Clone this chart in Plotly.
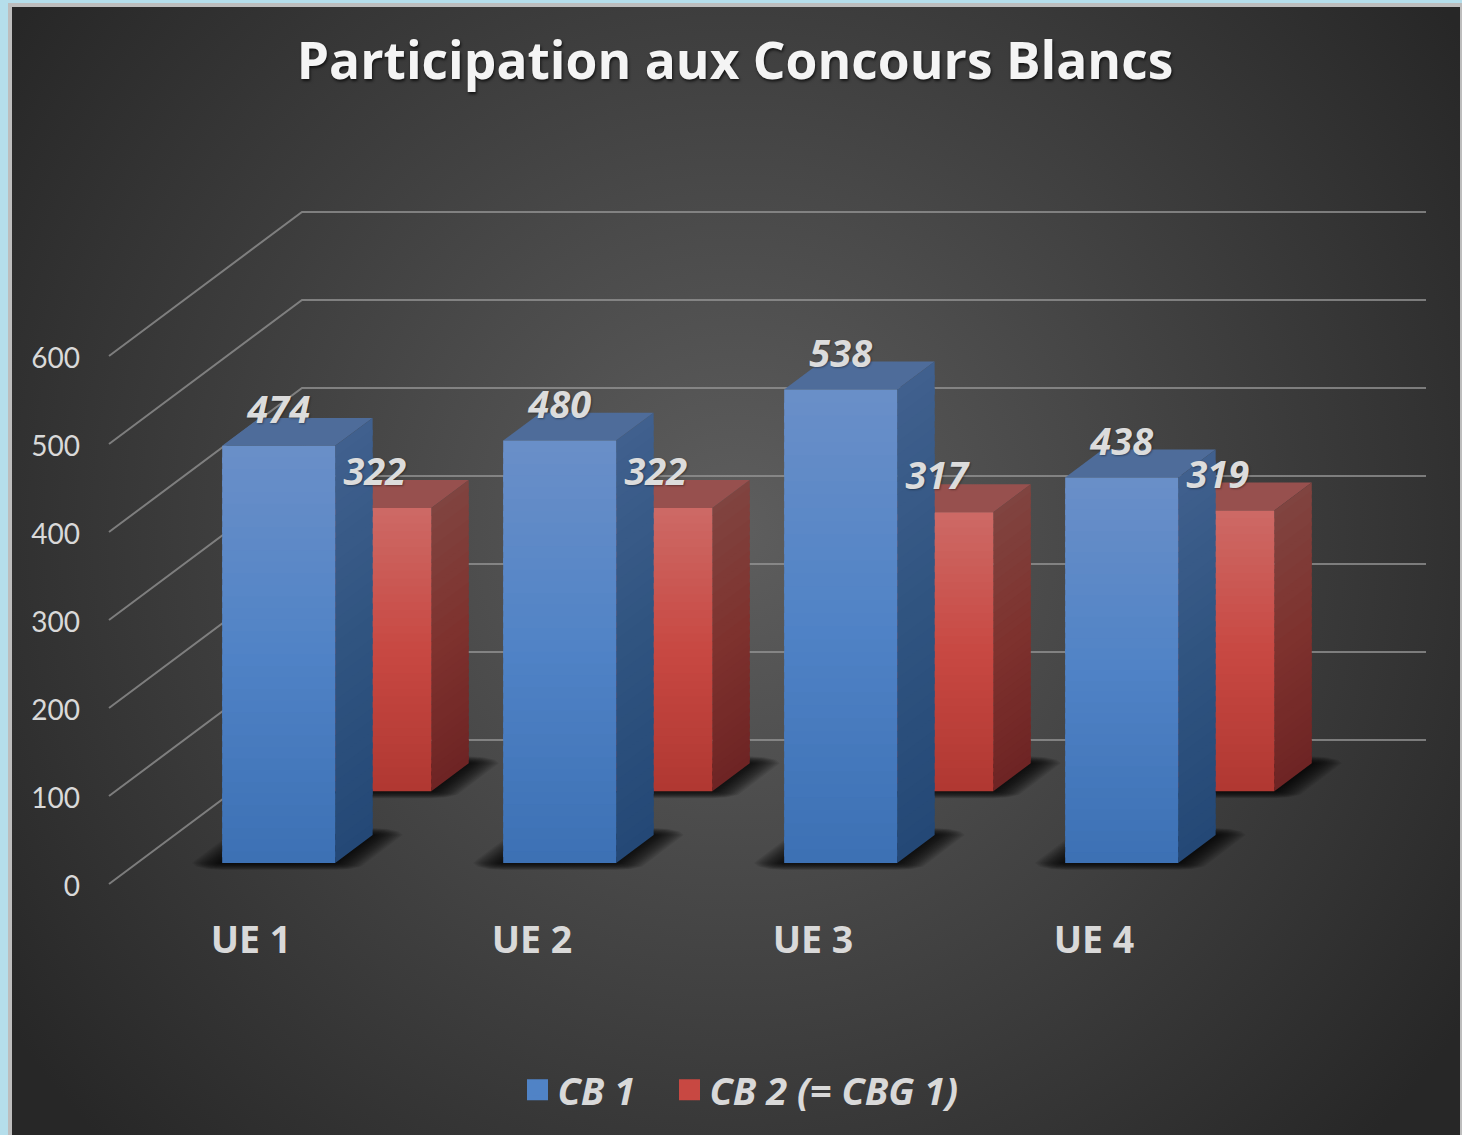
import base64
import math
import plotly.graph_objects as go

# ---- data ----
categories = ["UE 1", "UE 2", "UE 3", "UE 4"]
cb1_values = [474, 480, 538, 438]
cb2_values = [322, 322, 317, 319]
series_names = ["CB 1", "CB 2 (= CBG 1)"]
y_ticks = [0, 100, 200, 300, 400, 500, 600]
title_text = "Participation aux Concours Blancs"

# ---- oblique projection / layout ----
W, H = 1462, 1135
PX_PER_UNIT = 0.88
ZERO_PY = 884
X0, CAT_STEP, BAR_W = 194, 281, 113
DEPTH_X, DEPTH_Y = 193, 144 / PX_PER_UNIT     # full floor depth in x px and in value units
BLUE_T = (0.146, 0.340)
RED_T = (0.644, 0.838)
N = 36
FONT = "Open Sans"


def lerp(c1, c2, f):
    return tuple(a + (b - a) * f for a, b in zip(c1, c2))


def ramp(stops, f):
    f = min(max(f, 0), 1)
    n = len(stops) - 1
    i = min(int(f * n), n - 1)
    return lerp(stops[i], stops[i + 1], f * n - i)


def rgb(c):
    return "rgb(%d,%d,%d)" % tuple(round(v) for v in c)


def px(x, t):
    return x + DEPTH_X * t


def py(v, t):
    return v + DEPTH_Y * t


def hull(points):
    pts = sorted(set(points))

    def half(seq):
        out = []
        for p in seq:
            while len(out) > 1 and ((out[-1][0] - out[-2][0]) * (p[1] - out[-2][1])
                                    - (out[-1][1] - out[-2][1]) * (p[0] - out[-2][0])) <= 0:
                out.pop()
            out.append(p)
        return out[:-1]

    return half(pts) + half(pts[::-1])


BLUE = dict(
    front=[(106, 143, 200), (80, 131, 198), (60, 112, 180)],
    side=[(64, 96, 142), (48, 84, 128), (36, 72, 118)],
    top=(78, 108, 154),
)
RED = dict(
    front=[(205, 106, 102), (200, 72, 66), (176, 56, 50)],
    side=[(128, 68, 64), (126, 50, 46), (110, 36, 36)],
    top=(151, 80, 78),
)

fig = go.Figure()


def poly(xs, ys, color):
    fig.add_trace(go.Scatter(
        x=xs + xs[:1], y=ys + ys[:1], mode="lines", fill="toself", fillcolor=color,
        line=dict(width=0), hoverinfo="skip", showlegend=False))


# wall + floor gridlines
for v in y_ticks:
    fig.add_trace(go.Scatter(
        x=[px(109, 0), px(109, 1), 1426], y=[py(v, 0), py(v, 1), py(v, 1)],
        mode="lines", line=dict(color="rgba(150,150,150,0.75)", width=2),
        hoverinfo="skip", showlegend=False))

# soft floor shadows: footprint of each bar grown by an ellipse, layered translucent
SHADOW_LAYERS = 16
all_bars = [(i, BLUE_T) for i in range(len(cb1_values))] + [(i, RED_T) for i in range(len(cb2_values))]
for i, (t0, t1) in all_bars:
    left = X0 + CAT_STEP * i
    corners = [(px(left, t0), py(0, t0)), (px(left, t0) + BAR_W, py(0, t0)),
               (px(left, t1) + BAR_W, py(0, t1)), (px(left, t1), py(0, t1))]
    for k in range(SHADOW_LAYERS, 0, -1):
        rx = 30 * k / SHADOW_LAYERS
        ry = 7 * k / SHADOW_LAYERS / PX_PER_UNIT
        pts = []
        for cx, cy in corners:
            for a in range(0, 360, 30):
                pts.append((cx + rx * math.cos(math.radians(a)), cy + ry * math.sin(math.radians(a))))
        h = hull(pts)
        poly([p[0] for p in h], [p[1] for p in h], "rgba(0,0,0,0.075)")


def draw_bar(i, v, pal, t0, t1):
    left = X0 + CAT_STEP * i
    fx = px(left, t0)
    # top face
    poly([fx, fx + BAR_W, px(left, t1) + BAR_W, px(left, t1)],
         [py(v, t0), py(v, t0), py(v, t1), py(v, t1)], rgb(pal["top"]))
    # side and front faces, sliced for their vertical gradient (slices overlap to hide seams)
    xr0, xr1 = fx + BAR_W, px(left, t1) + BAR_W
    for k in range(N):
        hi = v * (1 - k / N)
        lo = v * (1 - (k + 1.5) / N) if k < N - 1 else 0
        poly([xr0, xr1, xr1, xr0],
             [py(hi, t0), py(hi, t1), py(lo, t1), py(lo, t0)],
             rgb(ramp(pal["side"], (k + 0.5) / N)))
        poly([fx, xr0, xr0, fx],
             [py(hi, t0), py(hi, t0), py(lo, t0), py(lo, t0)],
             rgb(ramp(pal["front"], (k + 0.5) / N)))


for i, v in enumerate(cb2_values):
    draw_bar(i, v, RED, *RED_T)
for i, v in enumerate(cb1_values):
    draw_bar(i, v, BLUE, *BLUE_T)

# value labels
label_font = dict(family=FONT, size=38, color="#dcdcdc", weight="bold", style="italic",
                  shadow="1px 1px 2px rgba(0,0,0,0.35)")
for vals, (t0, _) in ((cb1_values, BLUE_T), (cb2_values, RED_T)):
    fig.add_trace(go.Scatter(
        x=[px(X0 + CAT_STEP * i, t0) + BAR_W / 2 for i in range(len(vals))],
        y=[py(v, t0) + 32.5 / PX_PER_UNIT for v in vals],
        mode="text", text=[str(v) for v in vals], textposition="middle center",
        textfont=label_font, hoverinfo="skip", showlegend=False, cliponaxis=False))

# legend entries
for j, (name, pal) in enumerate(zip(series_names, (BLUE, RED))):
    fig.add_trace(go.Scatter(
        x=[None], y=[None], mode="markers", name=name, legend="legend" if j == 0 else "legend2",
        marker=dict(symbol="square", size=16, color=rgb(pal["front"][1]),
                    line=dict(width=5, color=rgb(pal["front"][1])))))

svg = f"""<svg xmlns='http://www.w3.org/2000/svg' width='{W}' height='{H}'>
<defs><radialGradient id='g' gradientUnits='userSpaceOnUse' cx='735' cy='530' r='880'>
<stop offset='0' stop-color='#5e5e5e'/><stop offset='1' stop-color='#272727'/></radialGradient></defs>
<rect width='{W}' height='{H}' fill='#b5deeb'/>
<rect x='8' y='3' width='{W-8}' height='{H}' fill='#bdbdbd'/>
<rect x='12' y='7' width='{W-14}' height='{H}' fill='url(#g)'/></svg>"""
bg = "data:image/svg+xml;base64," + base64.b64encode(svg.encode()).decode()

legend_common = dict(orientation="h", xanchor="left", y=1 - 1090 / H, yanchor="middle",
                     bgcolor="rgba(0,0,0,0)", borderwidth=0,
                     itemsizing="trace", itemclick=False, itemdoubleclick=False,
                     font=dict(family=FONT, size=38, color="#d9d9d9", weight="bold", style="italic"))

fig.update_layout(
    width=W, height=H, autosize=False,
    margin=dict(l=0, r=0, t=0, b=0, pad=0),
    paper_bgcolor="rgba(0,0,0,0)", plot_bgcolor="rgba(0,0,0,0)",
    images=[dict(source=bg, xref="paper", yref="paper", x=0, y=1, sizex=1, sizey=1,
                 xanchor="left", yanchor="top", sizing="stretch", layer="below")],
    title=dict(text=title_text, x=735 / W, xanchor="center", y=1 - 61 / H, yanchor="middle",
               font=dict(family=FONT, size=51.5, color="#f4f4f4", weight="bold",
                         shadow="1px 2px 3px rgba(0,0,0,0.7)")),
    xaxis=dict(range=[0, W], domain=[0, 1], anchor="free", position=1 - 914 / H,
               tickmode="array",
               tickvals=[251 + CAT_STEP * i for i in range(len(categories))], ticktext=categories,
               tickfont=dict(family=FONT, size=37.5, color="#d9d9d9", weight="bold"),
               showgrid=False, zeroline=False, showline=False, ticks="", fixedrange=True),
    yaxis=dict(range=[(ZERO_PY - H) / PX_PER_UNIT, ZERO_PY / PX_PER_UNIT], domain=[0, 1],
               anchor="free", position=80 / W, tickmode="array", tickvals=y_ticks,
               ticklabelshift=2,
               tickfont=dict(family="Lato", size=28, color="#d9d9d9"),
               showgrid=False, zeroline=False, showline=False, ticks="", fixedrange=True),
    legend=dict(x=517.5 / W, **legend_common),
    legend2=dict(x=669.5 / W, **legend_common),
    hovermode=False,
)

fig.write_html("out.html", config=dict(displayModeBar=False),
               post_script="document.body.style.margin='0';document.body.style.overflow='hidden';")
